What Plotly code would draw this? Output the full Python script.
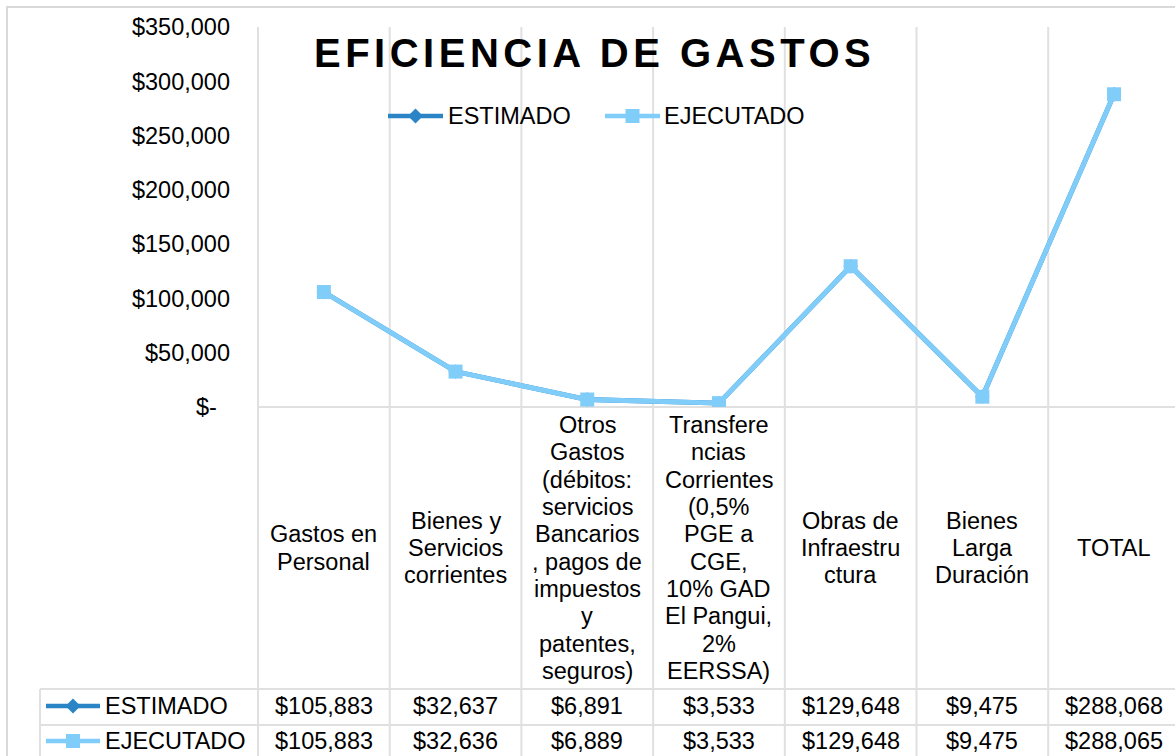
import plotly.graph_objects as go

# ---------------- data ----------------
categories = [
    "Gastos en<br>Personal",
    "Bienes y<br>Servicios<br>corrientes",
    "Otros<br>Gastos<br>(débitos:<br>servicios<br>Bancarios<br>, pagos de<br>impuestos<br>y<br>patentes,<br>seguros)",
    "Transfere<br>ncias<br>Corrientes<br>(0,5%<br>PGE a<br>CGE,<br>10% GAD<br>El Pangui,<br>2%<br>EERSSA)",
    "Obras de<br>Infraestru<br>ctura",
    "Bienes<br>Larga<br>Duración",
    "TOTAL",
]
estimado = [105883, 32637, 6891, 3533, 129648, 9475, 288068]
ejecutado = [105883, 32636, 6889, 3533, 129648, 9475, 288065]
series_names = ["ESTIMADO", "EJECUTADO"]
y_tick_values = [0, 50000, 100000, 150000, 200000, 250000, 300000, 350000]
y_tick_labels = ["$-\u00a0\u00a0", "$50,000", "$100,000", "$150,000", "$200,000",
                 "$250,000", "$300,000", "$350,000"]
title_text = "EFICIENCIA DE GASTOS"

# ---------------- style ----------------
W, H = 1175, 756
FONT = "Arial, 'Liberation Sans', sans-serif"
FS = 23.5
C_EST = "#2a84c6"
C_EJE = "#80cdfa"
GRID = "#e0e0e0"
PLOT_L, PLOT_T, PLOT_B = 258, 27, 407
CAT_W = 131.7
TABLE_T, ROW_SEP = 689, 725
ROW_Y = [706, 741]
LABEL_CY, LINE_PITCH = 548, 27.3


def px(x):
    return x / W


def py(y):
    return 1 - y / H


xs = list(range(len(categories)))

fig = go.Figure()
fig.add_trace(go.Scatter(
    x=xs, y=estimado, name=series_names[0], mode="lines+markers",
    line=dict(color=C_EST, width=4.8),
    marker=dict(symbol="diamond", size=11, color=C_EST, line=dict(width=0)),
))
fig.add_trace(go.Scatter(
    x=xs, y=ejecutado, name=series_names[1], mode="lines+markers",
    line=dict(color=C_EJE, width=4.8),
    marker=dict(symbol="square", size=14, color=C_EJE, line=dict(width=0)),
))

shapes = []
annotations = []

# chart border
shapes.append(dict(type="rect", xref="paper", yref="paper",
                   x0=px(7), x1=px(W + 20), y0=py(7), y1=py(H + 20),
                   line=dict(color="#d9d9d9", width=2), layer="below"))

# vertical category boundaries (plot + labels + table)
for i in range(len(categories)):
    shapes.append(dict(type="line", xref="x", yref="paper",
                       x0=i - 0.5, x1=i - 0.5, y0=py(PLOT_T), y1=py(H + 5),
                       line=dict(color=GRID, width=2), layer="below"))
# left axis line (unclipped)
shapes.append(dict(type="line", xref="paper", yref="paper",
                   x0=px(PLOT_L), x1=px(PLOT_L), y0=py(PLOT_T), y1=py(H + 5),
                   line=dict(color=GRID, width=2), layer="below"))
# horizontal x-axis line at zero
shapes.append(dict(type="line", xref="paper", yref="paper",
                   x0=px(PLOT_L), x1=1.0, y0=py(PLOT_B), y1=py(PLOT_B),
                   line=dict(color=GRID, width=2), layer="below"))
# table horizontal borders
for yy in (TABLE_T, ROW_SEP):
    shapes.append(dict(type="line", xref="paper", yref="paper",
                       x0=px(40), x1=1.0, y0=py(yy), y1=py(yy),
                       line=dict(color=GRID, width=2), layer="below"))
shapes.append(dict(type="line", xref="paper", yref="paper",
                   x0=px(40), x1=px(40), y0=py(TABLE_T), y1=py(H + 5),
                   line=dict(color=GRID, width=2), layer="below"))


def diamond(cx, cy, r):
    return (f"M {px(cx - r)} {py(cy)} L {px(cx)} {py(cy - r)} "
            f"L {px(cx + r)} {py(cy)} L {px(cx)} {py(cy + r)} Z")


def legend_key(x0, x1, cy, color, kind):
    shapes.append(dict(type="line", xref="paper", yref="paper",
                       x0=px(x0), x1=px(x1), y0=py(cy), y1=py(cy),
                       line=dict(color=color, width=4.5)))
    cx = (x0 + x1) / 2
    if kind == "diamond":
        shapes.append(dict(type="path", xref="paper", yref="paper",
                           path=diamond(cx, cy, 7.5), fillcolor=color,
                           line=dict(width=0)))
    else:
        shapes.append(dict(type="rect", xref="paper", yref="paper",
                           x0=px(cx - 7), x1=px(cx + 7), y0=py(cy - 7), y1=py(cy + 7),
                           fillcolor=color, line=dict(width=0)))


# top legend
legend_key(388, 443, 116, C_EST, "diamond")
legend_key(605, 660, 116, C_EJE, "square")
annotations.append(dict(xref="paper", yref="paper", x=px(446), y=py(116),
                        text=series_names[0], showarrow=False, xanchor="left",
                        yanchor="middle", font=dict(family=FONT, size=FS, color="black")))
annotations.append(dict(xref="paper", yref="paper", x=px(662), y=py(116),
                        text=series_names[1], showarrow=False, xanchor="left",
                        yanchor="middle", font=dict(family=FONT, size=FS, color="black")))

# table keys
legend_key(46, 100, ROW_Y[0], C_EST, "diamond")
legend_key(46, 100, ROW_Y[1], C_EJE, "square")
for name, yy in zip(series_names, ROW_Y):
    annotations.append(dict(xref="paper", yref="paper", x=px(103), y=py(yy),
                            text=name, showarrow=False, xanchor="left",
                            yanchor="middle", font=dict(family=FONT, size=FS, color="black")))

# table values
for vals, yy in zip([estimado, ejecutado], ROW_Y):
    for i, v in enumerate(vals):
        annotations.append(dict(xref="x", yref="paper", x=i, y=py(yy),
                                text="${:,}".format(v), showarrow=False,
                                xanchor="center", yanchor="middle",
                                font=dict(family=FONT, size=FS, color="black")))

# category labels (line by line for tight spacing)
for i, lab in enumerate(categories):
    lines = lab.split("<br>")
    n = len(lines)
    for j, ln in enumerate(lines):
        yy = LABEL_CY + (j - (n - 1) / 2) * LINE_PITCH
        annotations.append(dict(xref="x", yref="paper", x=i, y=py(yy),
                                text=ln, showarrow=False, xanchor="center",
                                yanchor="middle",
                                font=dict(family=FONT, size=FS, color="black")))

# title
annotations.append(dict(xref="paper", yref="paper", x=px(594), y=py(53),
                        text=f"<span style='letter-spacing:4.5px'><b>{title_text}</b></span>",
                        showarrow=False, xanchor="center", yanchor="middle",
                        font=dict(family=FONT, size=40, color="black")))

fig.update_layout(
    width=W, height=H,
    margin=dict(l=0, r=0, t=0, b=0, autoexpand=False),
    paper_bgcolor="white", plot_bgcolor="white",
    showlegend=False,
    xaxis=dict(domain=[px(PLOT_L), 1.0],
               range=[-0.5, -0.5 + (W - PLOT_L) / CAT_W],
               showgrid=False, zeroline=False, showticklabels=False,
               showline=False, ticks="", automargin=False),
    yaxis=dict(domain=[py(PLOT_B), py(PLOT_T)], range=[0, 350000],
               showgrid=False, zeroline=False, showline=False,
               tickvals=y_tick_values, ticktext=y_tick_labels,
               ticks="", ticklabelstandoff=27, automargin=False,
               tickfont=dict(family=FONT, size=FS, color="black")),
    shapes=shapes,
    annotations=annotations,
)

fig.write_html("out.html")
